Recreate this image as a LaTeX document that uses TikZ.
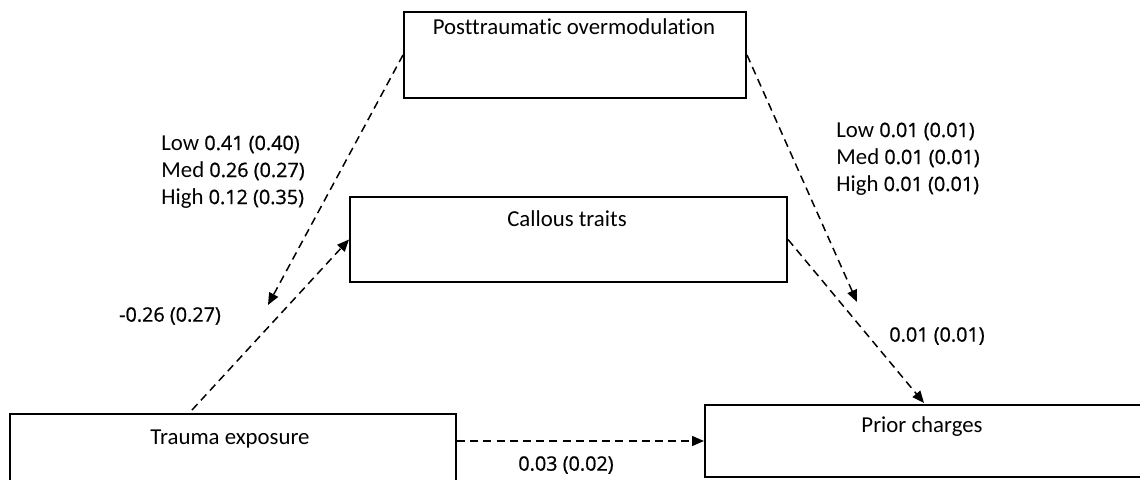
\documentclass[tikz,border=0pt]{standalone}
\usepackage{fontspec}
\setmainfont{Carlito}[Ligatures=NoCommon]
\newfontfamily\numfont{Open Sans}[FakeBold=0.9]
\usetikzlibrary{arrows.meta}
\newcommand{\est}[1]{{\numfont\fontsize{9.9}{13.5}\selectfont #1}}
\tikzset{
	varbox/.style={draw, line width=1pt, rectangle, anchor=north west, inner sep=0pt},
	path/.style={dashed, dash pattern=on 4pt off 2.6pt, line width=0.75pt, -{Triangle[length=6pt,width=5pt]}},
	coef/.style={align=left, inner sep=0pt, font=\fontsize{11.4}{13.5}\selectfont}
}
\begin{document}
\begin{tikzpicture}[x=0.5pt, y=-0.5pt, font=\fontsize{11.4}{13.5}\selectfont]
	\clip (0,0) rectangle (1140,480);
	\node[varbox, minimum width=171pt, minimum height=43pt] (post) at (403,11) {};
	\node[anchor=north, inner sep=0pt] (posttext) at (574,18) {Posttraumatic overmodulation};
	\node[varbox, minimum width=218.5pt, minimum height=42.5pt] (callous) at (349,196) {};
	\node[anchor=north, inner sep=0pt] (callotext) at (567,210) {Callous traits};
	\node[varbox, minimum width=223pt, minimum height=45pt] (trauma) at (9,413) {};
	\node[anchor=north, inner sep=0pt] (traumatext) at (230,429) {Trauma exposure};
	\node[varbox, minimum width=250pt, minimum height=36pt] (prior) at (704,404) {};
	\node[anchor=north, inner sep=0pt] (priortext) at (922,416) {Prior charges};

	\coordinate (pl) at (268,305);
	\coordinate (pr) at (857,302);
	\coordinate (ta) at (192,410);
	\coordinate (pt) at (924,403);
	\draw[path] (post.west) -- (pl);
	\draw[path] (ta) -- (callous.west);
	\draw[path] (post.east) -- (pr);
	\draw[path] (callous.east) -- (pt);
	\draw[path] (trauma.east |- prior.west) -- (prior.west);

	\node[coef, anchor=north west] (modl) at (161,135) {Low \est{0.41 (0.40)}\\Med \est{0.26 (0.27)}\\High \est{0.12 (0.35)}};
	\node[coef, anchor=north west] (modr) at (836,122) {Low \est{0.01 (0.01)}\\Med \est{0.01 (0.01)}\\High \est{0.01 (0.01)}};
	\node[inner sep=0pt] (a) at (170,316) {\est{-0.26 (0.27)}};
	\node[inner sep=0pt] (b) at (937,336) {\est{0.01 (0.01)}};
	\node[inner sep=0pt] (c) at (566,465) {\est{0.03 (0.02)}};
\end{tikzpicture}
\end{document}
